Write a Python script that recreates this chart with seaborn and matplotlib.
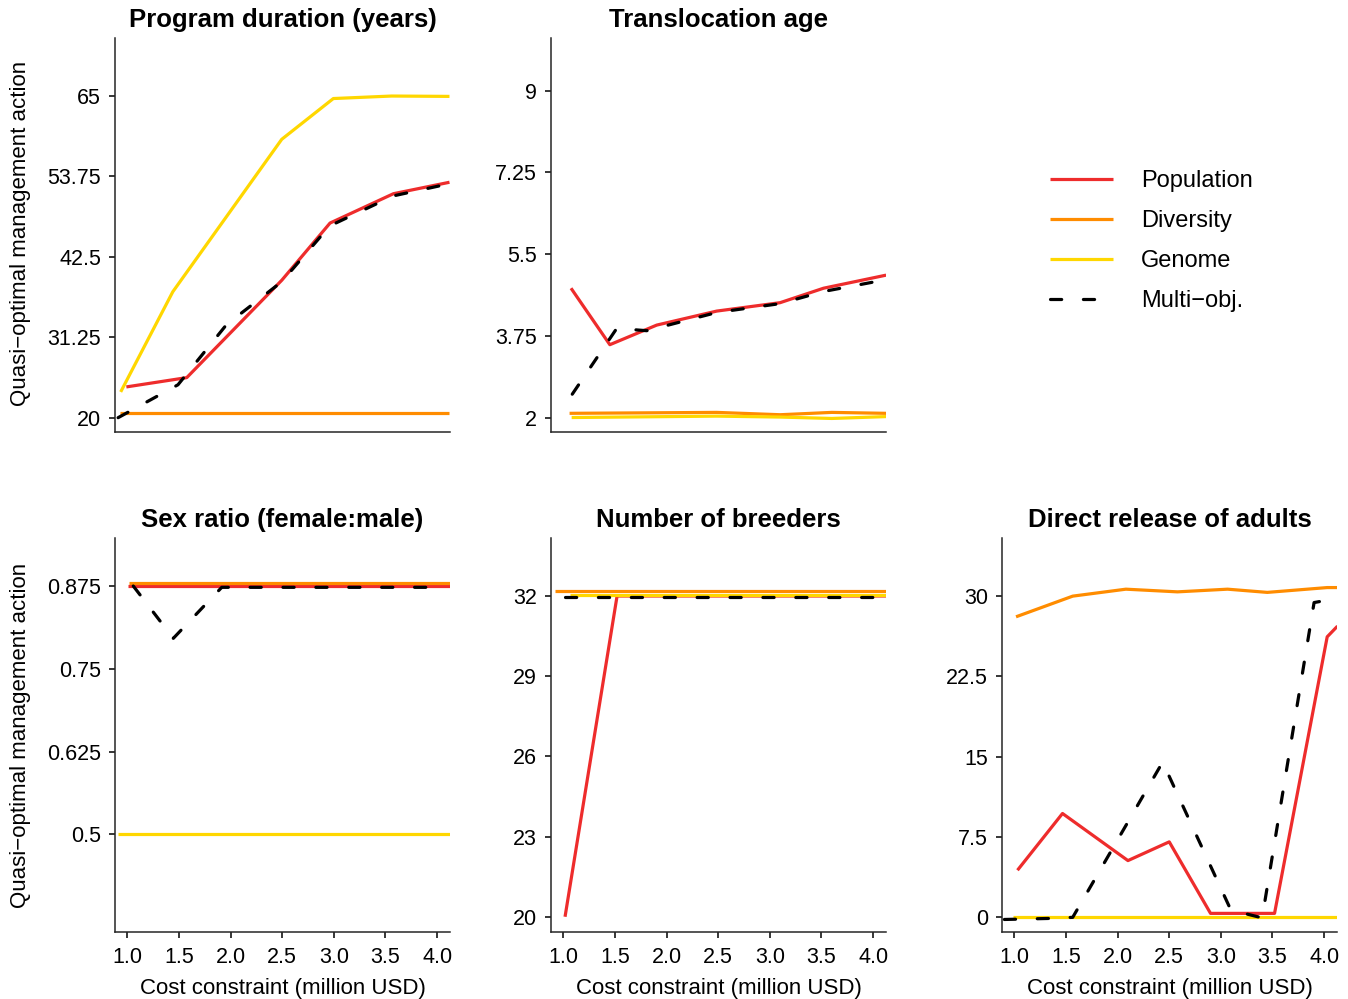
import matplotlib
matplotlib.use("Agg")
import pandas as pd
import matplotlib.pyplot as plt
import seaborn as sns

W, H = 1348, 999

SERIES = ["Population", "Diversity", "Genome", "Multi−obj."]
COLORS = {
    "Population": "#EE2C2C",
    "Diversity": "#FF8C00",
    "Genome": "#FFD700",
    "Multi−obj.": "black",
}
DASHES = {"Population": "", "Diversity": "", "Genome": "", "Multi−obj.": (3.5, 6.8)}

# Program duration (years)
dur_pop_x = [0.99, 1.575, 2.495, 2.963, 3.577, 4.12]
dur_pop_y = [24.3, 25.6, 39.2, 47.2, 51.3, 52.9]
dur_div_x = [0.93, 1.5, 2.0, 2.5, 3.0, 3.5, 4.12]
dur_div_y = [20.6, 20.6, 20.6, 20.6, 20.6, 20.6, 20.6]
dur_gen_x = [0.935, 1.44, 2.495, 2.995, 3.56, 4.12]
dur_gen_y = [23.6, 37.6, 58.9, 64.6, 64.95, 64.9]
dur_mul_x = [0.91, 1.49, 1.96, 2.495, 2.96, 3.577, 4.12]
dur_mul_y = [20.0, 24.6, 33.0, 39.0, 46.8, 51.0, 52.7]

# Translocation age
age_pop_x = [1.074, 1.45, 1.904, 2.485, 3.099, 3.52, 4.126]
age_pop_y = [4.77, 3.56, 3.98, 4.28, 4.46, 4.77, 5.05]
age_div_x = [1.06, 2.485, 3.1, 3.6, 4.126]
age_div_y = [2.09, 2.11, 2.06, 2.11, 2.09]
age_gen_x = [1.08, 2.485, 3.1, 3.6, 4.126]
age_gen_y = [2.0, 2.03, 2.01, 1.98, 2.02]
age_mul_x = [1.086, 1.517, 1.807, 2.485, 3.099, 3.52, 4.07]
age_mul_y = [2.5, 3.91, 3.86, 4.25, 4.44, 4.7, 4.93]

# Sex ratio (female:male)
sex_pop_x = [1.009, 2.0, 3.0, 4.125]
sex_pop_y = [0.875, 0.875, 0.875, 0.875]
sex_div_x = [1.02, 2.0, 3.0, 4.125]
sex_div_y = [0.88, 0.88, 0.88, 0.88]
sex_gen_x = [0.91, 2.0, 3.0, 4.125]
sex_gen_y = [0.5, 0.5, 0.5, 0.5]
sex_mul_x = [1.057, 1.445, 1.914, 3.96]
sex_mul_y = [0.875, 0.796, 0.873, 0.873]

# Number of breeders
brd_pop_x = [1.016, 1.52, 4.125]
brd_pop_y = [20.0, 32.0, 32.0]
brd_div_x = [0.92, 4.125]
brd_div_y = [32.19, 32.19]
brd_gen_x = [1.064, 4.125]
brd_gen_y = [32.04, 32.04]
brd_mul_x = [1.016, 4.036]
brd_mul_y = [31.95, 31.95]

# Direct release of adults
rel_pop_x = [1.03, 1.466, 2.10, 2.50, 2.90, 3.52, 4.03, 4.13]
rel_pop_y = [4.4, 9.7, 5.3, 7.05, 0.37, 0.37, 26.2, 27.2]
rel_div_x = [1.016, 1.565, 2.08, 2.58, 3.065, 3.45, 4.03, 4.13]
rel_div_y = [28.07, 30.0, 30.65, 30.4, 30.65, 30.35, 30.8, 30.8]
rel_gen_x = [0.99, 4.13]
rel_gen_y = [0.0, 0.0]
rel_mul_x = [0.903, 1.355, 1.565, 2.436, 3.097, 3.40, 3.903, 3.96]
rel_mul_y = [-0.2, -0.1, 0.0, 14.5, 0.68, -0.05, 29.4, 29.5]

X_TICKS = [1.0, 1.5, 2.0, 2.5, 3.0, 3.5, 4.0]


def make_df(parts):
    frames = []
    for name, (xs, ys) in zip(SERIES, parts):
        frames.append(pd.DataFrame({"cost": xs, "value": ys, "objective": name}))
    return pd.concat(frames, ignore_index=True)


panels = [
    {
        "title": "Program duration (years)",
        "data": make_df([(dur_pop_x, dur_pop_y), (dur_div_x, dur_div_y),
                         (dur_gen_x, dur_gen_y), (dur_mul_x, dur_mul_y)]),
        "ylim": (18.0, 73.06),
        "yticks": [20, 31.25, 42.5, 53.75, 65],
        "box": (115, 38),
        "bottom": False,
    },
    {
        "title": "Translocation age",
        "data": make_df([(age_pop_x, age_pop_y), (age_div_x, age_div_y),
                         (age_gen_x, age_gen_y), (age_mul_x, age_mul_y)]),
        "ylim": (1.69, 10.13),
        "yticks": [2, 3.75, 5.5, 7.25, 9],
        "box": (551, 38),
        "bottom": False,
    },
    {
        "title": "Sex ratio (female:male)",
        "data": make_df([(sex_pop_x, sex_pop_y), (sex_div_x, sex_div_y),
                         (sex_gen_x, sex_gen_y), (sex_mul_x, sex_mul_y)]),
        "ylim": (0.3525, 0.9475),
        "yticks": [0.5, 0.625, 0.75, 0.875],
        "box": (115, 538),
        "bottom": True,
    },
    {
        "title": "Number of breeders",
        "data": make_df([(brd_pop_x, brd_pop_y), (brd_div_x, brd_div_y),
                         (brd_gen_x, brd_gen_y), (brd_mul_x, brd_mul_y)]),
        "ylim": (19.43, 34.17),
        "yticks": [20, 23, 26, 29, 32],
        "box": (551, 538),
        "bottom": True,
    },
    {
        "title": "Direct release of adults",
        "data": make_df([(rel_pop_x, rel_pop_y), (rel_div_x, rel_div_y),
                         (rel_gen_x, rel_gen_y), (rel_mul_x, rel_mul_y)]),
        "ylim": (-1.37, 35.43),
        "yticks": [0, 7.5, 15, 22.5, 30],
        "box": (1002, 538),
        "bottom": True,
    },
]

sns.set_theme(style="ticks")
plt.rcParams["font.family"] = ["Liberation Sans", "DejaVu Sans"]
plt.rcParams["axes.linewidth"] = 1.1
plt.rcParams["text.color"] = "black"
plt.rcParams["axes.labelcolor"] = "black"

fig = plt.figure(figsize=(W / 100, H / 100), dpi=100)
PW, PH = 335, 394

axes = []
for p in panels:
    left, top = p["box"]
    ax = fig.add_axes([left / W, 1 - (top + PH) / H, PW / W, PH / H])
    sns.lineplot(data=p["data"], x="cost", y="value", hue="objective",
                 style="objective", hue_order=SERIES, style_order=SERIES,
                 palette=COLORS, dashes=DASHES, estimator=None, sort=False,
                 linewidth=2.3, dash_capstyle="round", solid_capstyle="butt",
                 legend=False, ax=ax)
    ax.set_xlim(0.88, 4.125)
    ax.set_ylim(*p["ylim"])
    ax.set_yticks(p["yticks"])
    ax.set_yticklabels([f"{v:g}" for v in p["yticks"]])
    sns.despine(ax=ax)
    ax.set_title(p["title"], fontsize=18.5, fontweight="bold", pad=8,
                 color="black")
    ax.set_ylabel("")
    ax.tick_params(axis="y", labelsize=15.5, length=4, width=1.1, pad=6,
                   colors="black")
    if p["bottom"]:
        ax.set_xticks(X_TICKS)
        ax.set_xticklabels([f"{v:.1f}" for v in X_TICKS])
        ax.tick_params(axis="x", labelsize=15.5, length=4, width=1.1, pad=6.5,
                       colors="black")
        ax.set_xlabel("Cost constraint (million USD)", fontsize=16, labelpad=7.5)
    else:
        ax.set_xticks(X_TICKS)
        ax.tick_params(axis="x", length=0, labelbottom=False)
        ax.set_xlabel("")
    axes.append(ax)

for yc in (233, 735):
    fig.text(21 / W, 1 - yc / H, "Quasi−optimal management action",
             rotation=90, ha="center", va="center", fontsize=16)

handles = axes[0].get_lines()[:4]
fig.legend(handles, SERIES, loc="upper left",
           bbox_to_anchor=(1050 / W, 1 - 170 / H), frameon=False,
           fontsize=17, handlelength=2.67, handletextpad=1.19,
           labelspacing=0.76, borderpad=0, borderaxespad=0)

fig.savefig("out.png", dpi=100)
